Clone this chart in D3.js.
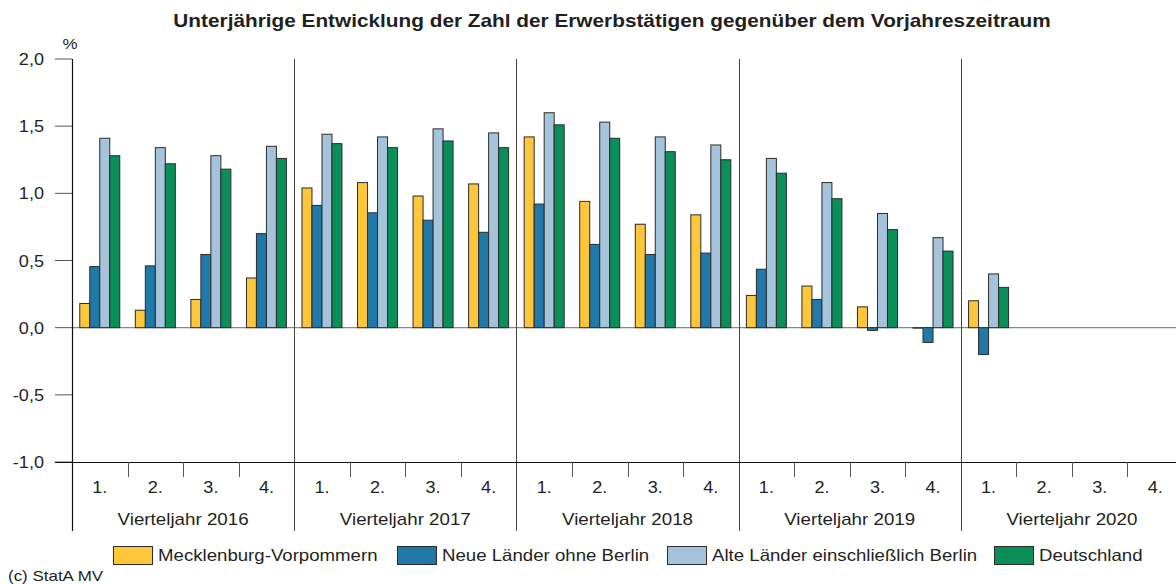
<!DOCTYPE html>
<html><head><meta charset="utf-8">
<script src="https://cdn.jsdelivr.net/npm/d3@7"></script>
<style>
html,body{margin:0;padding:0;background:#fff;}
svg{display:block;font-family:"Liberation Sans",Arial,sans-serif;}
</style></head>
<body>
<svg id="c" width="1176" height="584"></svg>
<script>
const years = ["2016","2017","2018","2019","2020"];
const quarters = ["1.","2.","3.","4."];
const seriesNames = ["Mecklenburg-Vorpommern","Neue Länder ohne Berlin","Alte Länder einschließlich Berlin","Deutschland"];
const colors = ["#FDC63B","#2179A9","#A5C3DA","#0A8F58"];
const mv    = [0.18,0.13,0.21,0.37, 1.04,1.08,0.98,1.07, 1.42,0.94,0.77,0.84, 0.24,0.31,0.155,0.0, 0.20,null,null,null];
const neue  = [0.455,0.46,0.545,0.70, 0.91,0.855,0.80,0.71, 0.92,0.62,0.545,0.555, 0.435,0.21,-0.02,-0.11, -0.20,null,null,null];
const alte  = [1.41,1.34,1.28,1.35, 1.44,1.42,1.48,1.45, 1.60,1.53,1.42,1.36, 1.26,1.08,0.85,0.67, 0.40,null,null,null];
const de    = [1.28,1.22,1.18,1.26, 1.37,1.34,1.39,1.34, 1.51,1.41,1.31,1.25, 1.15,0.96,0.73,0.57, 0.30,null,null,null];
const yTicks = [-1.0,-0.5,0.0,0.5,1.0,1.5,2.0];

(function(){
const series = [mv, neue, alte, de];
const keys = [];
years.forEach(yr => quarters.forEach(q => keys.push(yr + "-" + q)));

const svg = d3.select("#c");
const SX = 1.13;
const pL = 72, pR = 1183, pT = 59, pB = 462;

const x0 = d3.scaleBand().domain(keys).range([pL, pR]).paddingInner(0).paddingOuter(0);
const xYear = d3.scaleBand().domain(years).range([pL, pR]);
const x1 = d3.scaleBand().domain(d3.range(4)).range([0, x0.bandwidth()]).paddingOuter(0.778).paddingInner(0);
const y = d3.scaleLinear().domain([-1, 2]).range([pB, pT]);

function txt(g, x, yy, s, opts) {
  const t = g.append("text")
    .attr("transform", `translate(${x},${yy}) scale(${opts.sx || SX},1)`)
    .attr("fill", opts.fill || "#231f20")
    .attr("font-size", opts.size || 16)
    .attr("text-anchor", opts.anchor || "start")
    .text(s);
  if (opts.weight) t.attr("font-weight", opts.weight);
  return t;
}

txt(svg, 612, 27, "Unterjährige Entwicklung der Zahl der Erwerbstätigen gegenüber dem Vorjahreszeitraum", {size: 18, weight: "bold", anchor: "middle", sx: 1.155});
txt(svg, 70, 49, "%", {size: 15, anchor: "middle"});

yTicks.forEach(v => {
  svg.append("line").attr("x1", 55).attr("x2", pL).attr("y1", y(v)).attr("y2", y(v))
    .attr("stroke", "#555").attr("stroke-width", 1);
  txt(svg, 44, y(v) + 6, v.toFixed(1).replace(".", ","), {size: 16, anchor: "end"});
});

svg.append("line").attr("x1", pL).attr("x2", 1176).attr("y1", y(0)).attr("y2", y(0))
  .attr("stroke", "#888").attr("stroke-width", 1.2);

const bars = svg.append("g");
keys.forEach((k, i) => {
  series.forEach((s, j) => {
    const v = s[i];
    if (v === null) return;
    const bx = x0(k) + x1(j);
    const ya = y(Math.max(0, v)), yb = y(Math.min(0, v));
    bars.append("rect")
      .attr("x", bx).attr("y", ya)
      .attr("width", x1.bandwidth()).attr("height", Math.max(0.5, yb - ya))
      .attr("fill", colors[j]).attr("stroke", "#2b2b2b").attr("stroke-width", 1);
  });
});

years.slice(1).forEach(yr => {
  const xx = Math.round(xYear(yr)) + 0.5;
  svg.append("line").attr("x1", xx).attr("x2", xx).attr("y1", pT).attr("y2", 531)
    .attr("stroke", "#444").attr("stroke-width", 1);
});

svg.append("line").attr("x1", pL + 0.5).attr("x2", pL + 0.5).attr("y1", pT).attr("y2", 531)
  .attr("stroke", "#111").attr("stroke-width", 1.2);

svg.append("line").attr("x1", 55).attr("x2", 1176).attr("y1", pB + 0.5).attr("y2", pB + 0.5)
  .attr("stroke", "#111").attr("stroke-width", 1.2);

keys.forEach((k, i) => {
  if (i % 4 !== 0) {
    const xx = Math.round(x0(k)) + 0.5;
    svg.append("line").attr("x1", xx).attr("x2", xx).attr("y1", pB).attr("y2", 477)
      .attr("stroke", "#555").attr("stroke-width", 1);
  }
  txt(svg, x0(k) + x0.bandwidth() / 2, 493, quarters[i % 4], {size: 16, anchor: "middle"});
});
years.forEach(yr => {
  txt(svg, xYear(yr) + xYear.bandwidth() / 2, 525, "Vierteljahr " + yr, {size: 16.6, anchor: "middle"});
});

const legX = [113, 397, 667, 994];
seriesNames.forEach((n, j) => {
  svg.append("rect").attr("x", legX[j] + 0.5).attr("y", 546.5).attr("width", 39).attr("height", 18)
    .attr("fill", colors[j]).attr("stroke", "#2b2b2b").attr("stroke-width", 1);
  txt(svg, legX[j] + 45, 561, n, {size: 16.5});
});

txt(svg, 8, 581, "(c) StatA MV", {size: 15});
})();
</script>
</body></html>
